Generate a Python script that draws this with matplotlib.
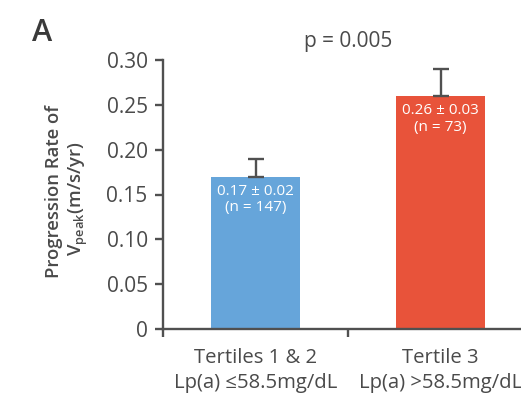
import matplotlib
matplotlib.use("Agg")
import matplotlib.pyplot as plt

# Data
groups = ["Tertiles 1 & 2\nLp(a) \u226458.5mg/dL", "Tertile 3\nLp(a) >58.5mg/dL"]
rates = [0.17, 0.26]
errors = [0.02, 0.03]
counts = [147, 73]
bar_colors = ["#66A5DA", "#E8533A"]
yticks = [0, 0.05, 0.10, 0.15, 0.20, 0.25, 0.30]
ytick_labels = ["0", "0.05", "0.10", "0.15", "0.20", "0.25", "0.30"]
p_text = "p = 0.005"

plt.rcParams["font.family"] = ["Open Sans", "DejaVu Sans"]
plt.rcParams["mathtext.fontset"] = "custom"
plt.rcParams["mathtext.rm"] = "Open Sans:semibold"
plt.rcParams["mathtext.it"] = "Open Sans:italic:semibold"

text_col = "#4a4a4a"
axis_col = "#505050"

fig = plt.figure(figsize=(5.21, 3.95), dpi=100)
ax = fig.add_axes([163 / 521, 1 - 329 / 395, (533 - 163) / 521, (329 - 60) / 395])

x = [0.5, 1.5]
ax.bar(x, rates, width=0.48, color=bar_colors, zorder=2)
ax.errorbar(x, rates, yerr=[[0, 0], errors], fmt="none", ecolor=axis_col,
            elinewidth=1.7, capsize=5.6, capthick=1.7, zorder=3)

for xi, r, e, n in zip(x, rates, errors, counts):
    ax.text(xi, r - 0.008, f"{r:.2f} \u00b1 {e:.2f}\n(n = {n})", ha="center", va="top",
            color="white", fontsize=11, linespacing=1.15, zorder=4)

ax.set_xlim(0, 2)
ax.set_ylim(0, 0.30)
ax.set_yticks(yticks)
ax.set_yticklabels(ytick_labels)
ax.set_xticks([0, 1, 2])
ax.set_xticklabels([])
ax.set_xticks(x, minor=True)
ax.set_xticklabels(groups, minor=True)
ax.tick_params(axis="x", which="minor", length=0, pad=14, labelsize=14.6, labelcolor=text_col)
ax.tick_params(axis="x", which="major", length=6, width=1.7, color=axis_col)
ax.tick_params(axis="y", length=6, width=1.7, color=axis_col, labelsize=15,
               labelcolor=text_col, pad=5)
for lbl in ax.get_xticklabels(minor=True):
    lbl.set_linespacing(1.28)

for s in ["top", "right"]:
    ax.spines[s].set_visible(False)
for s in ["left", "bottom"]:
    ax.spines[s].set_color(axis_col)
    ax.spines[s].set_linewidth(1.7)

fig.text(54 / 521, 1 - 192 / 395, "Progression Rate of", rotation=90, ha="center",
         va="center", fontsize=13.3, fontweight="semibold", color=text_col)
fig.text(78 / 521, 1 - 199 / 395, r"$\mathrm{V_{peak}(m/s/yr)}$", rotation=90,
         ha="center", va="center", fontsize=13.3, color=text_col)

fig.text(42 / 521, 1 - 33 / 395, "A", ha="center", va="center", fontsize=22,
         fontweight="semibold", color="#3a3a3a")
fig.text(348 / 521, 1 - 42 / 395, p_text, ha="center", va="center", fontsize=15,
         color=text_col)

fig.savefig("out.png", dpi=100)
